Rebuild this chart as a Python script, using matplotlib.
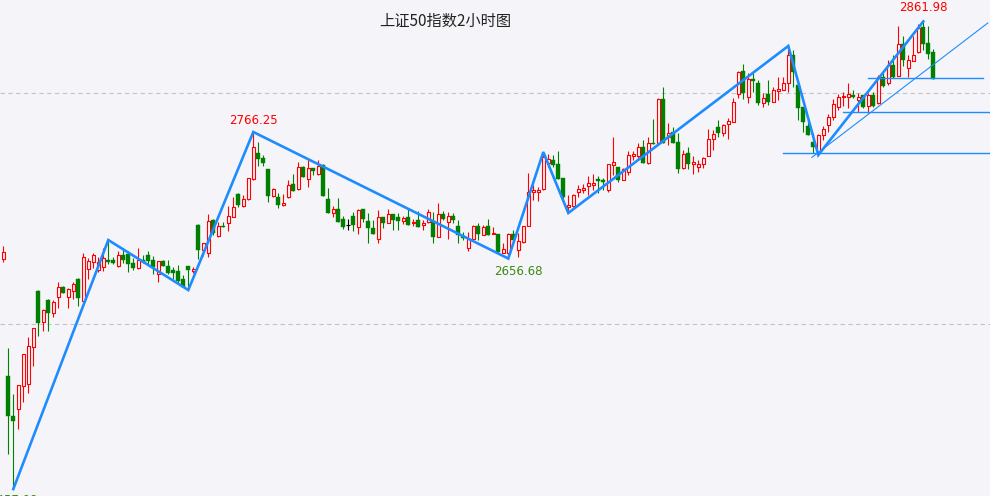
import matplotlib
matplotlib.use("Agg")
import matplotlib.pyplot as plt
from matplotlib.patches import Rectangle
from matplotlib.collections import LineCollection, PatchCollection

# ---------------- data ----------------
opens = [2656.0, 2555.0, 2520.3, 2526.2, 2546.6, 2547.8, 2579.8, 2628.6, 2601.5, 2620.8,
         2609.8, 2623.1, 2631.8, 2623.6, 2628.8, 2639.0, 2620.2, 2647.4, 2653.9, 2646.8,
         2649.6, 2655.4, 2655.4, 2650.5, 2659.7, 2660.6, 2652.6, 2648.2, 2655.4, 2659.7,
         2655.4, 2643.3, 2654.6, 2650.2, 2646.5, 2646.2, 2638.7, 2650.2, 2646.2, 2685.7,
         2664.1, 2661.2, 2690.0, 2676.2, 2685.1, 2687.7, 2692.9, 2712.6, 2702.4, 2708.0,
         2725.3, 2748.3, 2744.0, 2733.9, 2710.8, 2709.7, 2703.0, 2709.7, 2721.2, 2716.6,
         2735.7, 2725.3, 2734.8, 2729.9, 2737.7, 2708.0, 2696.4, 2699.3, 2690.7, 2685.6,
         2693.5, 2683.7, 2699.3, 2689.4, 2682.9, 2673.6, 2692.4, 2687.7, 2695.2, 2692.4,
         2689.4, 2692.4, 2687.2, 2690.0, 2685.7, 2688.6, 2689.4, 2675.6, 2695.2, 2688.6,
         2693.5, 2684.9, 2676.2, 2665.5, 2673.6, 2684.9, 2677.1, 2684.9, 2677.9, 2677.9,
         2661.7, 2661.2, 2677.9, 2664.1, 2671.3, 2685.1, 2714.0, 2714.0, 2716.6, 2739.1,
         2742.0, 2738.5, 2726.2, 2701.6, 2702.2, 2714.6, 2716.0, 2719.5, 2720.4, 2725.5,
         2724.9, 2716.0, 2737.7, 2735.7, 2724.7, 2731.9, 2745.5, 2745.5, 2753.0, 2739.1,
         2757.0, 2756.5, 2794.5, 2762.2, 2766.5, 2757.8, 2734.8, 2747.8, 2738.5, 2736.2,
         2738.5, 2745.5, 2759.9, 2770.3, 2765.1, 2773.2, 2775.2, 2799.1, 2819.3, 2796.8,
         2811.9, 2808.4, 2791.6, 2799.1, 2792.5, 2802.0, 2802.6, 2808.9, 2832.9, 2806.9,
         2787.6, 2771.4, 2757.8, 2749.2, 2763.6, 2772.3, 2779.5, 2788.1, 2796.3, 2796.8,
         2798.3, 2793.9, 2798.3, 2788.8, 2798.3, 2791.1, 2813.6, 2808.4, 2824.2, 2814.7,
         2842.4, 2821.4, 2828.0, 2835.8, 2856.9, 2843.0, 2835.8]

highs = [2667.5, 2579.0, 2539.4, 2547.2, 2574.0, 2588.5, 2596.3, 2629.5, 2613.0, 2621.5,
         2620.8, 2636.6, 2632.9, 2630.9, 2636.6, 2639.5, 2661.2, 2656.9, 2661.2, 2657.8,
         2665.5, 2672.7, 2657.8, 2663.2, 2665.5, 2663.5, 2656.9, 2665.5, 2659.7, 2663.2,
         2658.9, 2654.6, 2655.4, 2655.4, 2649.1, 2651.1, 2642.4, 2650.5, 2649.1, 2686.2,
         2669.9, 2695.2, 2690.5, 2688.6, 2688.6, 2702.2, 2709.7, 2713.0, 2711.7, 2726.2,
         2766.25, 2757.8, 2746.3, 2734.4, 2717.5, 2713.7, 2712.6, 2724.7, 2729.9, 2740.5,
         2736.8, 2742.0, 2735.2, 2742.0, 2738.1, 2718.0, 2702.2, 2708.8, 2693.5, 2690.7,
         2697.2, 2699.3, 2699.8, 2696.4, 2690.0, 2698.7, 2692.8, 2699.3, 2695.6, 2696.4,
         2693.5, 2700.2, 2690.7, 2698.1, 2690.0, 2699.3, 2697.2, 2704.5, 2698.1, 2697.2,
         2696.4, 2690.0, 2679.9, 2679.9, 2685.7, 2687.7, 2685.7, 2690.7, 2684.2, 2678.3,
         2670.4, 2678.5, 2681.4, 2678.5, 2684.9, 2731.0, 2720.4, 2718.9, 2748.9, 2747.2,
         2746.3, 2750.0, 2726.6, 2711.7, 2712.2, 2720.4, 2721.2, 2728.1, 2729.9, 2728.1,
         2726.2, 2738.9, 2762.2, 2736.1, 2734.8, 2750.0, 2750.0, 2757.0, 2759.3, 2761.6,
         2777.2, 2795.4, 2804.9, 2773.8, 2770.8, 2765.1, 2750.7, 2753.5, 2745.5, 2742.0,
         2744.9, 2768.6, 2768.0, 2776.6, 2773.2, 2778.1, 2795.4, 2819.3, 2825.1, 2817.1,
         2817.1, 2811.3, 2799.7, 2811.3, 2804.9, 2813.6, 2813.6, 2840.7, 2837.2, 2807.3,
         2788.0, 2776.6, 2765.1, 2764.5, 2771.4, 2781.8, 2794.5, 2799.1, 2801.1, 2808.4,
         2802.6, 2799.7, 2798.7, 2799.7, 2801.1, 2815.6, 2817.6, 2828.6, 2832.9, 2858.0,
         2849.4, 2832.9, 2849.4, 2859.7, 2861.98, 2858.0, 2837.8]

lows = [2653.9, 2487.5, 2457.08, 2509.1, 2532.7, 2540.5, 2563.9, 2589.6, 2594.2, 2594.2,
        2605.8, 2614.1, 2627.1, 2614.1, 2621.6, 2615.6, 2619.5, 2639.0, 2648.2, 2645.3,
        2646.2, 2652.0, 2652.0, 2649.6, 2653.1, 2645.3, 2646.8, 2647.5, 2652.6, 2651.7,
        2643.0, 2636.1, 2650.2, 2643.0, 2638.7, 2635.2, 2631.8, 2629.4, 2643.9, 2656.0,
        2658.9, 2658.3, 2677.1, 2675.6, 2683.7, 2680.8, 2692.5, 2701.6, 2701.6, 2707.5,
        2724.8, 2736.8, 2736.8, 2705.9, 2709.7, 2700.2, 2702.2, 2709.2, 2715.4, 2716.1,
        2727.5, 2718.4, 2729.0, 2729.0, 2710.8, 2696.4, 2692.4, 2688.6, 2682.0, 2681.4,
        2680.8, 2677.9, 2688.6, 2669.9, 2677.9, 2670.4, 2683.4, 2687.3, 2681.4, 2681.4,
        2686.6, 2685.7, 2684.9, 2683.7, 2681.4, 2687.7, 2669.9, 2675.2, 2690.0, 2673.6,
        2687.7, 2669.9, 2672.7, 2663.2, 2673.2, 2672.7, 2676.7, 2677.1, 2677.5, 2661.2,
        2661.2, 2656.68, 2672.7, 2658.0, 2670.4, 2684.7, 2707.4, 2706.5, 2716.1, 2736.2,
        2736.2, 2725.3, 2707.4, 2696.1, 2701.6, 2710.2, 2713.2, 2711.7, 2716.0, 2713.2,
        2716.0, 2714.6, 2729.0, 2723.2, 2724.3, 2729.0, 2742.0, 2742.0, 2739.1, 2738.7,
        2755.6, 2756.1, 2756.5, 2755.0, 2757.0, 2730.5, 2734.4, 2733.9, 2729.9, 2731.9,
        2734.8, 2745.1, 2750.7, 2762.2, 2762.8, 2759.9, 2774.8, 2795.4, 2794.5, 2791.1,
        2801.1, 2789.6, 2787.6, 2789.6, 2792.1, 2793.9, 2802.2, 2801.1, 2804.9, 2776.6,
        2766.5, 2763.6, 2747.8, 2746.3, 2759.3, 2766.5, 2776.6, 2785.3, 2788.8, 2786.8,
        2795.4, 2783.8, 2786.8, 2782.9, 2788.1, 2790.7, 2805.5, 2806.9, 2812.7, 2814.3,
        2823.4, 2814.1, 2827.6, 2834.9, 2837.2, 2829.5, 2811.9]

closes = [2662.1, 2520.6, 2516.0, 2547.2, 2573.8, 2581.0, 2596.3, 2601.1, 2612.1, 2609.8,
          2619.3, 2631.8, 2627.1, 2630.0, 2634.6, 2622.8, 2657.8, 2654.6, 2659.7, 2653.9,
          2656.9, 2653.7, 2652.6, 2659.7, 2655.4, 2652.0, 2648.2, 2655.4, 2653.7, 2654.6,
          2649.1, 2654.6, 2650.2, 2644.4, 2644.4, 2637.2, 2632.3, 2646.8, 2647.9, 2664.1,
          2669.9, 2689.2, 2679.1, 2684.9, 2683.7, 2693.5, 2701.6, 2703.0, 2708.0, 2726.2,
          2753.5, 2742.6, 2739.7, 2710.8, 2716.6, 2703.0, 2704.5, 2720.4, 2715.4, 2735.7,
          2727.5, 2734.8, 2732.5, 2736.8, 2710.8, 2696.4, 2699.3, 2688.6, 2684.2, 2685.6,
          2685.7, 2698.7, 2690.7, 2682.9, 2677.9, 2692.4, 2687.2, 2695.2, 2690.0, 2689.4,
          2691.5, 2685.7, 2688.6, 2684.2, 2687.2, 2697.2, 2675.6, 2695.2, 2690.7, 2693.5,
          2690.0, 2677.1, 2674.2, 2673.3, 2684.9, 2677.9, 2684.2, 2677.1, 2679.1, 2662.6,
          2664.7, 2677.9, 2672.7, 2672.1, 2684.9, 2714.6, 2716.0, 2716.0, 2744.9, 2742.6,
          2737.7, 2725.3, 2710.2, 2703.0, 2711.7, 2716.6, 2717.5, 2722.3, 2721.8, 2723.8,
          2723.2, 2738.5, 2740.5, 2724.7, 2733.9, 2746.3, 2747.2, 2753.0, 2739.1, 2757.0,
          2755.6, 2794.5, 2756.5, 2765.6, 2757.0, 2733.9, 2747.2, 2738.5, 2740.5, 2738.5,
          2743.5, 2759.9, 2764.5, 2765.1, 2772.3, 2776.0, 2792.0, 2818.4, 2799.7, 2811.9,
          2810.7, 2791.6, 2795.4, 2792.5, 2802.6, 2803.2, 2808.9, 2832.9, 2818.4, 2786.8,
          2775.2, 2763.6, 2753.5, 2763.6, 2768.6, 2779.5, 2790.5, 2796.3, 2797.4, 2799.1,
          2796.8, 2796.3, 2787.6, 2798.3, 2788.8, 2813.6, 2806.1, 2824.2, 2813.6, 2842.4,
          2828.6, 2828.6, 2832.9, 2856.0, 2842.5, 2833.5, 2811.9]

# zigzag swing points (bar index, price)
zz_idx = [2, 21, 37, 50, 101, 108, 113, 157, 163, 184]
zz_price = [2457.08, 2672.7, 2629.4, 2766.25, 2656.68, 2748.9, 2696.1, 2840.7, 2746.3, 2861.98]

# labelled extremes
label_idx = [50, 101, 184, 2]
label_text = ["2766.25", "2656.68", "2861.98", "2457.08"]
label_price = [2766.25, 2656.68, 2861.98, 2457.08]

# support / resistance lines: (start index, end index, price)
hlines_start = [172.9, 168.0, 155.9]
hlines_end = [196.0, 197.3, 197.3]
hlines_price = [2812.7, 2783.3, 2747.8]

# thin trend line
trend_idx = [161.7, 196.9]
trend_price = [2744.2, 2860.6]

grid_levels = [2800, 2600]
title = "上证50指数2小时图"

# ---------------- drawing ----------------
BG = "#F5F5F9"
RED = "#FF0000"
GREEN = "#008000"
BLUE = "#1E8CFF"

fig = plt.figure(figsize=(9.9, 4.96), dpi=100, facecolor=BG)
ax = fig.add_axes([0, 0, 1, 1])
ax.set_facecolor(BG)
ax.set_xlim(-0.66, 197.34)
ax.set_ylim(2451.08, 2880.52)
ax.axis("off")

for g in grid_levels:
    ax.axhline(g, color="#C4C4C4", lw=0.8, ls=(0, (4, 3)), zorder=1)

px = (2880.52 - 2451.08) / 496.0  # price per pixel, used for minimum body height
wick_segs, wick_cols = [], []
rects_fill, rects_hollow = [], []
for i, (o, h, l, c) in enumerate(zip(opens, highs, lows, closes)):
    if c > o:
        top, bot = c, o
        rects_hollow.append(Rectangle((i - 0.3, bot), 0.6, max(top - bot, px)))
        wick_segs.append([(i, top), (i, h)])
        wick_segs.append([(i, l), (i, bot)])
        wick_cols += [RED, RED]
    elif c < o:
        top, bot = o, c
        rects_fill.append(Rectangle((i - 0.4, bot), 0.8, max(top - bot, px)))
        wick_segs.append([(i, l), (i, h)])
        wick_cols.append(GREEN)
    else:
        wick_segs.append([(i, l), (i, h)])
        wick_cols.append("black")
        wick_segs.append([(i - 0.4, o), (i + 0.4, o)])
        wick_cols.append("black")

ax.add_collection(LineCollection(wick_segs, colors=wick_cols, linewidths=0.8, zorder=3))
ax.add_collection(PatchCollection(rects_fill, facecolor=GREEN, edgecolor=GREEN,
                                  linewidth=0.3, zorder=4))
ax.add_collection(PatchCollection(rects_hollow, facecolor=BG, edgecolor=RED,
                                  linewidth=0.8, zorder=4))

# support / resistance and trend lines
for s, e, p in zip(hlines_start, hlines_end, hlines_price):
    ax.plot([s, e], [p, p], color=BLUE, lw=1.0, zorder=5)
ax.plot(trend_idx, trend_price, color=BLUE, lw=0.8, zorder=5)

# zigzag
ax.plot(zz_idx, zz_price, color=BLUE, lw=1.9, zorder=6, solid_joinstyle="miter")

# extreme labels
offsets = [(0, 8), (7, -9), (0, 10), (0, -8)]
colors = [RED, "#3A8A12", RED, "#3A8A12"]
for (dx, dy), t, xi, p, col in zip(offsets, label_text, label_idx, label_price, colors):
    ax.annotate(t, (xi, p), xytext=(dx, dy), textcoords="offset points",
                ha="center", va="center", fontsize=8.5, color=col,
                family="DejaVu Sans", zorder=7)

fig.text(0.45, 0.958, title, ha="center", va="center", fontsize=11, color="#222222",
         family=["Noto Sans CJK SC", "DejaVu Sans"])

fig.savefig("out.png", dpi=100, facecolor=BG)
